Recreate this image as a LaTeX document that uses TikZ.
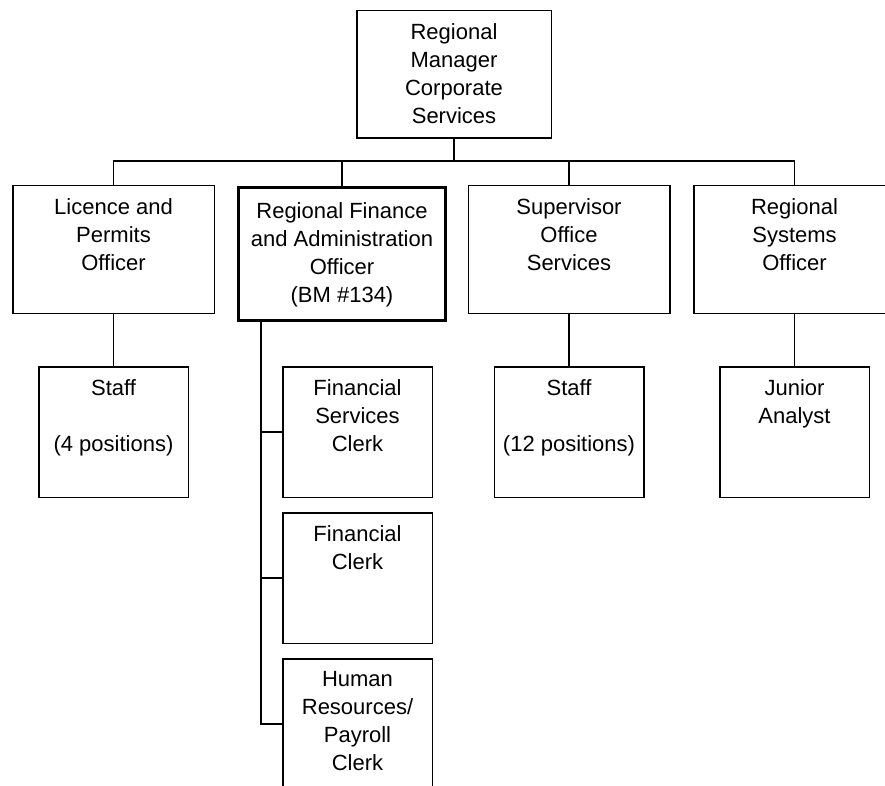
\documentclass[tikz,border=0pt]{standalone}
\usepackage{fontspec}
\setmainfont{Liberation Sans}
\usetikzlibrary{positioning}
\tikzset{
    base/.style={rectangle, draw=black, line width=1.5pt, fill=white},
    unit/.style={base, minimum width=201.5pt, minimum height=127.5pt},
    headunit/.style={base, line width=3pt, minimum width=207pt, minimum height=133pt},
    post/.style={base, minimum width=149.5pt, minimum height=130.5pt},
    roletext/.style={anchor=north, align=center, inner ysep=13pt, font=\fontsize{22}{28}\selectfont},
    link/.style={line width=1.5pt}
}

\begin{document}
\begin{tikzpicture}[x=1pt, y=-1pt, node distance=14pt]
    \useasboundingbox (0,0) rectangle (885,786);

    % Top
    \node (manager) [base, minimum width=194.5pt, minimum height=127.5pt,
        label={[roletext]north:{Regional\\Manager\\Corporate\\Services}}] at (454,74.5) {};

    % Second row
    \node (licence) [unit, label={[roletext]north:{Licence and\\Permits\\Officer}}] at (113.5,249.5) {};
    \node (finance) [headunit, label={[roletext, yshift=-3pt]north:{Regional Finance\\and Administration\\Officer\\(BM \#134)}}] at (342,254) {};
    \node (supervisor) [unit, label={[roletext]north:{Supervisor\\Office\\Services}}] at (569,249.5) {};
    \node (systems) [unit, label={[roletext]north:{Regional\\Systems\\Officer}}] at (794.5,249.5) {};

    % Third row
    \node (staffA) [post, below=52pt of licence, label={[roletext]north:{Staff\\[28pt](4 positions)}}] {};
    \node (fsclerk) [post, below=44pt of finance, xshift=15.5pt, label={[roletext]north:{Financial\\Services\\Clerk}}] {};
    \node (fclerk) [post, below=of fsclerk, label={[roletext]north:{Financial\\Clerk}}] {};
    \node (hrclerk) [post, below=of fclerk, label={[roletext]north:{Human\\Resources/\\Payroll\\Clerk}}] {};
    \node (staffB) [post, below=52pt of supervisor, label={[roletext]north:{Staff\\[28pt](12 positions)}}] {};
    \node (junior) [post, below=52pt of systems, label={[roletext]north:{Junior\\Analyst}}] {};

    % Connecting
    \coordinate (bus) at (454,161);
    \coordinate (spine) at (261,322);
    \draw [link] (manager) -- (bus);
    \draw [link] (licence.north) |- (bus) -| (systems.north);
    \draw [link] (finance.north) -- (finance.north |- bus);
    \draw [link] (supervisor.north) -- (supervisor.north |- bus);

    \draw [link] (licence) -- (staffA);
    \draw [link] (supervisor) -- (staffB);
    \draw [link] (systems) -- (junior);

    \draw [link] (spine) |- (hrclerk.west);
    \draw [link] (spine |- fsclerk.west) -- (fsclerk.west);
    \draw [link] (spine |- fclerk.west) -- (fclerk.west);

\end{tikzpicture}
\end{document}
